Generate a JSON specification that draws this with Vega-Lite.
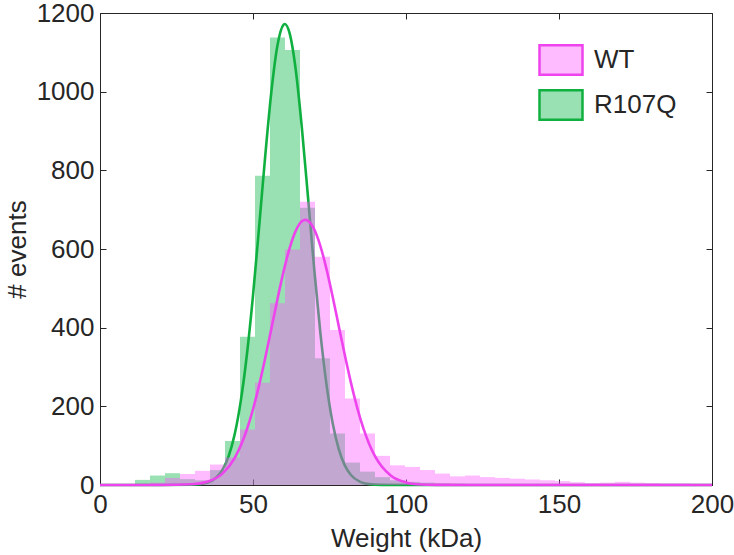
{
  "$schema": "https://vega.github.io/schema/vega-lite/v6.json",
  "width": 612,
  "height": 472,
  "autosize": {"type": "none"},
  "padding": {"left": 100, "top": 13, "right": 22, "bottom": 70},
  "config": {
    "font": "Liberation Sans",
    "view": {"stroke": "#262626", "strokeWidth": 1},
    "axis": {
      "grid": false,
      "domainColor": "#262626",
      "tickColor": "#262626",
      "labelColor": "#262626",
      "titleColor": "#262626",
      "labelFont": "Liberation Sans",
      "titleFont": "Liberation Sans",
      "labelFontSize": 26,
      "titleFontSize": 26,
      "titleFontWeight": "normal",
      "tickSize": -6,
      "labelPadding": 12,
      "labelFlush": false,
      "labelOverlap": false,
      "format": "d"
    },
    "legend": {
      "labelFont": "Liberation Sans",
      "labelFontSize": 26,
      "labelColor": "#262626",
      "padding": 0
    }
  },
  "datasets": {
    "bars": [
      {"s": "WT", "a": 11.43, "b": 16.33, "n": 3},
      {"s": "WT", "a": 16.33, "b": 21.24, "n": 6},
      {"s": "WT", "a": 21.24, "b": 26.14, "n": 18},
      {"s": "WT", "a": 26.14, "b": 31.04, "n": 28},
      {"s": "WT", "a": 31.04, "b": 35.94, "n": 36},
      {"s": "WT", "a": 35.94, "b": 40.85, "n": 52},
      {"s": "WT", "a": 40.85, "b": 45.75, "n": 70},
      {"s": "WT", "a": 45.75, "b": 50.65, "n": 141},
      {"s": "WT", "a": 50.65, "b": 55.55, "n": 260},
      {"s": "WT", "a": 55.55, "b": 60.45, "n": 462},
      {"s": "WT", "a": 60.45, "b": 65.36, "n": 599},
      {"s": "WT", "a": 65.36, "b": 70.26, "n": 720},
      {"s": "WT", "a": 70.26, "b": 75.16, "n": 580},
      {"s": "WT", "a": 75.16, "b": 80.06, "n": 394},
      {"s": "WT", "a": 80.06, "b": 84.96, "n": 220},
      {"s": "WT", "a": 84.96, "b": 89.87, "n": 131},
      {"s": "WT", "a": 89.87, "b": 94.77, "n": 74},
      {"s": "WT", "a": 94.77, "b": 99.67, "n": 50},
      {"s": "WT", "a": 99.67, "b": 104.57, "n": 46},
      {"s": "WT", "a": 104.57, "b": 109.47, "n": 38},
      {"s": "WT", "a": 109.47, "b": 114.38, "n": 29},
      {"s": "WT", "a": 114.38, "b": 119.28, "n": 22},
      {"s": "WT", "a": 119.28, "b": 124.18, "n": 24},
      {"s": "WT", "a": 124.18, "b": 129.08, "n": 20},
      {"s": "WT", "a": 129.08, "b": 133.98, "n": 18},
      {"s": "WT", "a": 133.98, "b": 138.89, "n": 16},
      {"s": "WT", "a": 138.89, "b": 143.79, "n": 14},
      {"s": "WT", "a": 143.79, "b": 148.69, "n": 12},
      {"s": "WT", "a": 148.69, "b": 153.59, "n": 10},
      {"s": "WT", "a": 153.59, "b": 158.49, "n": 7},
      {"s": "WT", "a": 158.49, "b": 163.4, "n": 5},
      {"s": "WT", "a": 163.4, "b": 168.3, "n": 6},
      {"s": "WT", "a": 168.3, "b": 173.2, "n": 8},
      {"s": "WT", "a": 173.2, "b": 178.1, "n": 6},
      {"s": "WT", "a": 178.1, "b": 183.0, "n": 5},
      {"s": "WT", "a": 183.0, "b": 187.91, "n": 4},
      {"s": "WT", "a": 187.91, "b": 192.81, "n": 4},
      {"s": "WT", "a": 192.81, "b": 197.71, "n": 3},
      {"s": "WT", "a": 197.71, "b": 200, "n": 3},
      {"s": "R107Q", "a": 11.43, "b": 16.33, "n": 13},
      {"s": "R107Q", "a": 16.33, "b": 21.24, "n": 24},
      {"s": "R107Q", "a": 21.24, "b": 26.14, "n": 30},
      {"s": "R107Q", "a": 26.14, "b": 31.04, "n": 15},
      {"s": "R107Q", "a": 31.04, "b": 35.94, "n": 12},
      {"s": "R107Q", "a": 35.94, "b": 40.85, "n": 38},
      {"s": "R107Q", "a": 40.85, "b": 45.75, "n": 112},
      {"s": "R107Q", "a": 45.75, "b": 50.65, "n": 377},
      {"s": "R107Q", "a": 50.65, "b": 55.55, "n": 786},
      {"s": "R107Q", "a": 55.55, "b": 60.45, "n": 1138},
      {"s": "R107Q", "a": 60.45, "b": 65.36, "n": 1106},
      {"s": "R107Q", "a": 65.36, "b": 70.26, "n": 705},
      {"s": "R107Q", "a": 70.26, "b": 75.16, "n": 322},
      {"s": "R107Q", "a": 75.16, "b": 80.06, "n": 131},
      {"s": "R107Q", "a": 80.06, "b": 84.96, "n": 57},
      {"s": "R107Q", "a": 84.96, "b": 89.87, "n": 34},
      {"s": "R107Q", "a": 89.87, "b": 94.77, "n": 20},
      {"s": "R107Q", "a": 94.77, "b": 99.67, "n": 12},
      {"s": "R107Q", "a": 99.67, "b": 104.57, "n": 8},
      {"s": "R107Q", "a": 104.57, "b": 109.47, "n": 6},
      {"s": "R107Q", "a": 109.47, "b": 114.38, "n": 4},
      {"s": "R107Q", "a": 114.38, "b": 119.28, "n": 3},
      {"s": "R107Q", "a": 119.28, "b": 124.18, "n": 2}
    ],
    "fitG": [
      {"x": 0, "y": 0}, {"x": 20, "y": 0}, {"x": 30, "y": 0.6}, {"x": 35, "y": 5.8},
      {"x": 38, "y": 19}, {"x": 40, "y": 38.3}, {"x": 42, "y": 72.5}, {"x": 44, "y": 128.5},
      {"x": 46, "y": 213.2}, {"x": 48, "y": 331.2}, {"x": 50, "y": 481.7}, {"x": 52, "y": 656.3},
      {"x": 54, "y": 837}, {"x": 56, "y": 999.6}, {"x": 58, "y": 1117.9}, {"x": 60, "y": 1170.5},
      {"x": 60.4, "y": 1172}, {"x": 62, "y": 1147.6}, {"x": 64, "y": 1053.6}, {"x": 66, "y": 905.7},
      {"x": 68, "y": 729.1}, {"x": 70, "y": 549.6}, {"x": 72, "y": 387.8}, {"x": 74, "y": 256.3},
      {"x": 76, "y": 158.6}, {"x": 78, "y": 91.9}, {"x": 80, "y": 49.9}, {"x": 82, "y": 25.3},
      {"x": 85, "y": 8.1}, {"x": 88, "y": 2.2}, {"x": 92, "y": 0.3}, {"x": 100, "y": 0}, {"x": 200, "y": 0}
    ],
    "fitW": [
      {"x": 0, "y": 0}, {"x": 20, "y": 0.05}, {"x": 30, "y": 1.8}, {"x": 35, "y": 8.1},
      {"x": 40, "y": 28.9}, {"x": 44, "y": 68.4}, {"x": 48, "y": 141.1}, {"x": 50, "y": 192.4},
      {"x": 52, "y": 253.6}, {"x": 54, "y": 323}, {"x": 56, "y": 397.5}, {"x": 58, "y": 472.6},
      {"x": 60, "y": 543}, {"x": 62, "y": 602.9}, {"x": 64, "y": 646.8}, {"x": 66, "y": 670.5},
      {"x": 67.1, "y": 674}, {"x": 68, "y": 671.7}, {"x": 70, "y": 650.1}, {"x": 72, "y": 608.1},
      {"x": 74, "y": 549.6}, {"x": 76, "y": 480}, {"x": 78, "y": 405}, {"x": 80, "y": 330.3},
      {"x": 82, "y": 260.2}, {"x": 84, "y": 198.2}, {"x": 86, "y": 145.8}, {"x": 88, "y": 103.7},
      {"x": 90, "y": 71.2}, {"x": 95, "y": 23.9}, {"x": 100, "y": 6.5}, {"x": 105, "y": 1.4},
      {"x": 110, "y": 0.25}, {"x": 120, "y": 0}, {"x": 200, "y": 0}
    ]
  },
  "layer": [
    {
      "data": {"name": "bars"},
      "transform": [{"filter": "datum.s === 'R107Q'"}],
      "mark": {"type": "bar", "fillOpacity": 0.4, "strokeWidth": 0},
      "encoding": {
        "x": {"field": "a", "type": "quantitative", "scale": {"domain": [0, 200], "nice": false},
              "axis": {"orient": "bottom", "values": [0, 50, 100, 150, 200], "title": "Weight (kDa)", "titlePadding": 8}},
        "x2": {"field": "b"},
        "y": {"field": "n", "type": "quantitative", "scale": {"domain": [0, 1200], "nice": false},
              "axis": {"orient": "left", "values": [0, 200, 400, 600, 800, 1000, 1200], "title": "# events", "titlePadding": 6}},
        "y2": {"datum": 0},
        "fill": {"field": "s", "type": "nominal",
                 "scale": {"domain": ["WT", "R107Q"], "range": ["#ff55ff", "#00b140"]},
                 "legend": {"title": null, "orient": "none", "legendX": 438, "legendY": 24,
                            "symbolType": "M-1,-0.69L1,-0.69L1,0.69L-1,0.69Z", "symbolSize": 1849,
                            "rowPadding": 2, "labelOffset": 10,
                            "encode": {"symbols": {"update": {
                              "fillOpacity": {"value": 0.4},
                              "opacity": {"value": 1},
                              "strokeWidth": {"value": 2.5},
                              "stroke": [{"test": "datum.value === 'WT'", "value": "#ee44ee"}, {"value": "#10b040"}]
                            }}}}}
      }
    },
    {
      "data": {"name": "fitG"},
      "mark": {"type": "line", "color": "#10b040", "strokeWidth": 2.6, "interpolate": "monotone"},
      "encoding": {
        "x": {"field": "x", "type": "quantitative", "axis": null},
        "y": {"field": "y", "type": "quantitative", "axis": null}
      }
    },
    {
      "data": {"name": "bars"},
      "transform": [{"filter": "datum.s === 'WT'"}],
      "mark": {"type": "bar", "fillOpacity": 0.4, "strokeWidth": 0},
      "encoding": {
        "x": {"field": "a", "type": "quantitative",
              "axis": {"orient": "top", "values": [0, 50, 100, 150, 200], "labels": false, "title": null, "domain": false}},
        "x2": {"field": "b"},
        "y": {"field": "n", "type": "quantitative",
              "axis": {"orient": "right", "values": [0, 200, 400, 600, 800, 1000, 1200], "labels": false, "title": null, "domain": false}},
        "y2": {"datum": 0},
        "fill": {"field": "s", "type": "nominal"}
      }
    },
    {
      "data": {"name": "fitW"},
      "mark": {"type": "line", "color": "#ee44ee", "strokeWidth": 2.6, "interpolate": "monotone"},
      "encoding": {
        "x": {"field": "x", "type": "quantitative", "axis": null},
        "y": {"field": "y", "type": "quantitative", "axis": null}
      }
    }
  ],
  "resolve": {"axis": {"x": "independent", "y": "independent"}}
}
